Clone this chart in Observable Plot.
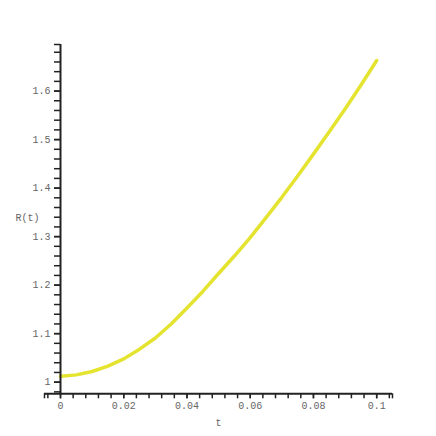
<!DOCTYPE html>
<html>
<head>
<meta charset="utf-8">
<script src="https://cdn.jsdelivr.net/npm/d3@7"></script>
<script src="https://cdn.jsdelivr.net/npm/@observablehq/plot@0.6"></script>
<style>
  html, body { margin: 0; padding: 0; background: #fff; }
  #chart svg { display: block; }
</style>
</head>
<body>
<div id="chart"></div>
<script>
const tValues = [0, 0.005, 0.01, 0.015, 0.02, 0.025, 0.03, 0.035, 0.04, 0.045, 0.05, 0.055, 0.06, 0.065, 0.07, 0.075, 0.08, 0.085, 0.09, 0.095, 0.1];
const rValues = [1.012, 1.015, 1.022, 1.033, 1.048, 1.068, 1.091, 1.120, 1.153, 1.187, 1.224, 1.260, 1.298, 1.339, 1.381, 1.425, 1.470, 1.516, 1.563, 1.612, 1.663];
const xTickLabels = [0, 0.02, 0.04, 0.06, 0.08, 0.1];
const yTickLabels = [1, 1.1, 1.2, 1.3, 1.4, 1.5, 1.6];
const xDomain = [-0.00506, 0.105];
const yDomain = [0.976, 1.696];

const data = tValues.map((t, i) => ({t, r: rValues[i]}));
const xMinor = d3.range(-0.004, 0.1045, 0.004).concat(xDomain);
const yMinor = d3.range(0.98, 1.685, 0.02).concat([yDomain[1]]);

const W = 436, H = 436;
const mL = 44, mR = 44, mT = 44, mB = 42.7;
const xScale = d3.scaleLinear(xDomain, [mL, W - mR]);
const yAxisDx = xScale(0) - mL;
const axisColor = "#222";
const textColor = "#666";

const chart = Plot.plot({
  width: W,
  height: H,
  marginLeft: mL,
  marginRight: mR,
  marginTop: mT,
  marginBottom: mB,
  style: {fontFamily: "'Liberation Mono', 'DejaVu Sans Mono', monospace", fontSize: "10px", background: "#fff"},
  x: {domain: xDomain, axis: null},
  y: {domain: yDomain, axis: null},
  marks: [
    Plot.line(data, {x: "t", y: "r", stroke: "rgb(228,228,48)", strokeWidth: 3.5}),
    Plot.ruleY([yDomain[0]], {stroke: axisColor, strokeWidth: 2}),
    Plot.ruleX([0], {y1: yDomain[0], y2: yDomain[1], stroke: axisColor, strokeWidth: 2}),
    Plot.axisX(xMinor, {anchor: "bottom", tickSize: 5, tickFormat: () => "", stroke: axisColor, strokeWidth: 1.5, label: null}),
    Plot.axisX(xTickLabels, {anchor: "bottom", tickSize: 5, tickPadding: 3, tickFormat: d => String(d), stroke: axisColor, fill: textColor, strokeWidth: 1.5, label: null}),
    Plot.axisY(yMinor, {anchor: "left", dx: yAxisDx, tickSize: 6, tickFormat: () => "", stroke: axisColor, strokeWidth: 1.5, label: null}),
    Plot.axisY(yTickLabels, {anchor: "left", dx: yAxisDx, tickSize: 6, tickPadding: 4, tickFormat: d => String(d), stroke: axisColor, fill: textColor, strokeWidth: 1.5, label: null}),
    Plot.text(["R(t)"], {frameAnchor: "left", dx: -17, dy: -1, textAnchor: "middle", fill: textColor}),
    Plot.text(["t"], {frameAnchor: "bottom", dy: 32, textAnchor: "middle", fill: textColor})
  ]
});
document.getElementById("chart").appendChild(chart);
</script>
</body>
</html>
